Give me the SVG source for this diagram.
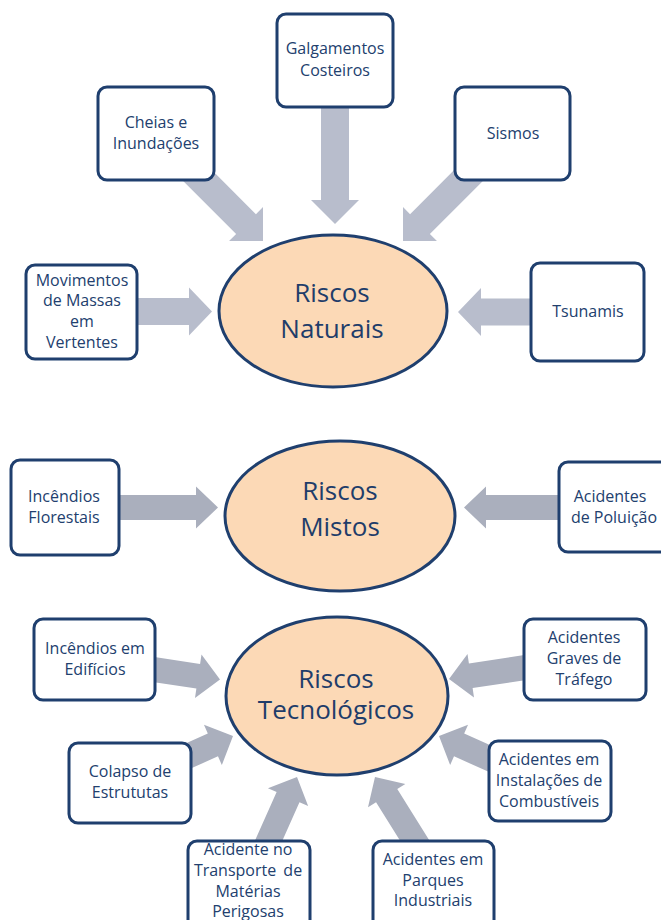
<svg xmlns="http://www.w3.org/2000/svg" width="661" height="920" viewBox="0 0 661 920">
  <style>
    .bg { fill: #ffffff; }
    .arw { fill: #B8BDCC; }
    .arw2 { fill: #AAAFBD; }
    .box { fill: #ffffff; stroke: #1F3F6E; stroke-width: 3; }
    .hub { fill: #FCD9B6; stroke: #1F3F6E; stroke-width: 3; }
    .lbl { font-family: "Open Sans", "Liberation Sans", sans-serif; font-size: 16px; fill: #22406E; text-anchor: middle; }
    .hubt { font-family: "Open Sans", "Liberation Sans", sans-serif; font-size: 26px; fill: #1F3D6A; text-anchor: middle; }
  </style>
  <rect class="bg" x="0" y="0" width="661" height="920"/>

  <!-- block arrows: tip at the local origin, pointing along +x -->
  <g id="connectors">
    <!-- Riscos Naturais -->
    <path class="arw" transform="translate(335,224) rotate(90)" d="M0,0 L-24,-24 L-24,-14 L-124,-14 L-124,14 L-24,14 L-24,24 Z"/>
    <path class="arw" transform="translate(263,241) rotate(45)" d="M0,0 L-24,-24 L-24,-14 L-105,-14 L-105,14 L-24,14 L-24,24 Z"/>
    <path class="arw" transform="translate(403,241) rotate(135)" d="M0,0 L-24,-24 L-24,-14 L-105,-14 L-105,14 L-24,14 L-24,24 Z"/>
    <path class="arw" transform="translate(212,311.5) rotate(0)" d="M0,0 L-23,-24 L-23,-13.5 L-82,-13.5 L-82,13.5 L-23,13.5 L-23,24 Z"/>
    <path class="arw" transform="translate(458,312) rotate(180)" d="M0,0 L-23,-24 L-23,-13.5 L-80,-13.5 L-80,13.5 L-23,13.5 L-23,24 Z"/>
    <!-- Riscos Mistos -->
    <path class="arw2" transform="translate(218,507.5) rotate(0)" d="M0,0 L-22,-21 L-22,-12.5 L-106,-12.5 L-106,12.5 L-22,12.5 L-22,21 Z"/>
    <path class="arw2" transform="translate(464,507.5) rotate(180)" d="M0,0 L-22,-21 L-22,-12.5 L-102,-12.5 L-102,12.5 L-22,12.5 L-22,21 Z"/>
    <!-- Riscos Tecnológicos -->
    <path class="arw2" transform="translate(220,679.5) rotate(8.5)" d="M0,0 L-22,-22 L-22,-12.5 L-73,-12.5 L-73,12.5 L-22,12.5 L-22,22 Z"/>
    <path class="arw2" transform="translate(449,679) rotate(171.5)" d="M0,0 L-22,-22 L-22,-12.5 L-83,-12.5 L-83,12.5 L-22,12.5 L-22,22 Z"/>
    <path class="arw2" transform="translate(233,736) rotate(-24)" d="M0,0 L-22,-22 L-22,-12.5 L-66,-12.5 L-66,12.5 L-22,12.5 L-22,22 Z"/>
    <path class="arw2" transform="translate(439,736) rotate(-156)" d="M0,0 L-22,-22 L-22,-12.5 L-66,-12.5 L-66,12.5 L-22,12.5 L-22,22 Z"/>
    <path class="arw2" transform="translate(297,777) rotate(-66)" d="M0,0 L-22,-22 L-22,-12.5 L-80,-12.5 L-80,12.5 L-22,12.5 L-22,22 Z"/>
    <path class="arw2" transform="translate(375,777) rotate(-122)" d="M0,0 L-22,-22 L-22,-12.5 L-88,-12.5 L-88,12.5 L-22,12.5 L-22,22 Z"/>
  </g>

  <!-- hubs -->
  <g id="riscos-naturais">
    <ellipse class="hub" cx="333" cy="311" rx="114" ry="76"/>
    <text class="hubt" x="332" y="302">Riscos</text>
    <text class="hubt" x="332" y="338">Naturais</text>
  </g>
  <g id="riscos-mistos">
    <ellipse class="hub" cx="340" cy="516" rx="115" ry="75"/>
    <text class="hubt" x="340" y="500">Riscos</text>
    <text class="hubt" x="340" y="536">Mistos</text>
  </g>
  <g id="riscos-tecnologicos">
    <ellipse class="hub" cx="337" cy="696" rx="111" ry="79"/>
    <text class="hubt" x="336" y="688">Riscos</text>
    <text class="hubt" x="336" y="719">Tecnológicos</text>
  </g>

  <!-- natural hazards -->
  <g id="galgamentos">
    <rect class="box" x="277" y="14" width="116" height="93" rx="9"/>
    <text class="lbl" x="335" y="54">Galgamentos</text>
    <text class="lbl" x="335" y="76">Costeiros</text>
  </g>
  <g id="cheias">
    <rect class="box" x="98" y="87" width="116" height="93" rx="9"/>
    <text class="lbl" x="156" y="128">Cheias e</text>
    <text class="lbl" x="156" y="149">Inundações</text>
  </g>
  <g id="sismos">
    <rect class="box" x="455" y="87" width="115" height="93" rx="9"/>
    <text class="lbl" x="513" y="139">Sismos</text>
  </g>
  <g id="movimentos">
    <rect class="box" x="26" y="265" width="111" height="94" rx="9"/>
    <text class="lbl" x="82" y="286">Movimentos</text>
    <text class="lbl" x="82" y="306">de Massas</text>
    <text class="lbl" x="82" y="327">em</text>
    <text class="lbl" x="82" y="348">Vertentes</text>
  </g>
  <g id="tsunamis">
    <rect class="box" x="531" y="263" width="113" height="98" rx="9"/>
    <text class="lbl" x="588" y="317">Tsunamis</text>
  </g>

  <!-- mixed hazards -->
  <g id="incendios-florestais">
    <rect class="box" x="11" y="460" width="108" height="95" rx="9"/>
    <text class="lbl" x="64" y="502">Incêndios</text>
    <text class="lbl" x="64" y="523">Florestais</text>
  </g>
  <g id="acidentes-poluicao">
    <rect class="box" x="559" y="462" width="112" height="90" rx="9"/>
    <text class="lbl" x="610" y="502">Acidentes</text>
    <text class="lbl" x="614" y="523">de Poluição</text>
  </g>

  <!-- technological hazards -->
  <g id="incendios-edificios">
    <rect class="box" x="34" y="619" width="121" height="81" rx="9"/>
    <text class="lbl" x="95" y="654">Incêndios em</text>
    <text class="lbl" x="95" y="675">Edifícios</text>
  </g>
  <g id="acidentes-trafego">
    <rect class="box" x="524" y="619" width="122" height="81" rx="9"/>
    <text class="lbl" x="584" y="643">Acidentes</text>
    <text class="lbl" x="584" y="664">Graves de</text>
    <text class="lbl" x="584" y="685">Tráfego</text>
  </g>
  <g id="colapso">
    <rect class="box" x="69" y="743" width="122" height="80" rx="9"/>
    <text class="lbl" x="130" y="777">Colapso de</text>
    <text class="lbl" x="130" y="798">Estrututas</text>
  </g>
  <g id="acidentes-combustiveis">
    <rect class="box" x="489" y="741" width="122" height="80" rx="9"/>
    <text class="lbl" x="549" y="765">Acidentes em</text>
    <text class="lbl" x="549" y="786">Instalações de</text>
    <text class="lbl" x="549" y="807">Combustíveis</text>
  </g>
  <g id="transporte-perigosas">
    <rect class="box" x="188" y="841" width="122" height="92" rx="9"/>
    <text class="lbl" x="248" y="855">Acidente no</text>
    <text class="lbl" x="248" y="876" word-spacing="3">Transporte de</text>
    <text class="lbl" x="248" y="897">Matérias</text>
    <text class="lbl" x="248" y="917">Perigosas</text>
  </g>
  <g id="parques-industriais">
    <rect class="box" x="373" y="841" width="121" height="92" rx="9"/>
    <text class="lbl" x="433" y="865">Acidentes em</text>
    <text class="lbl" x="433" y="886">Parques</text>
    <text class="lbl" x="433" y="906">Industriais</text>
  </g>
</svg>
